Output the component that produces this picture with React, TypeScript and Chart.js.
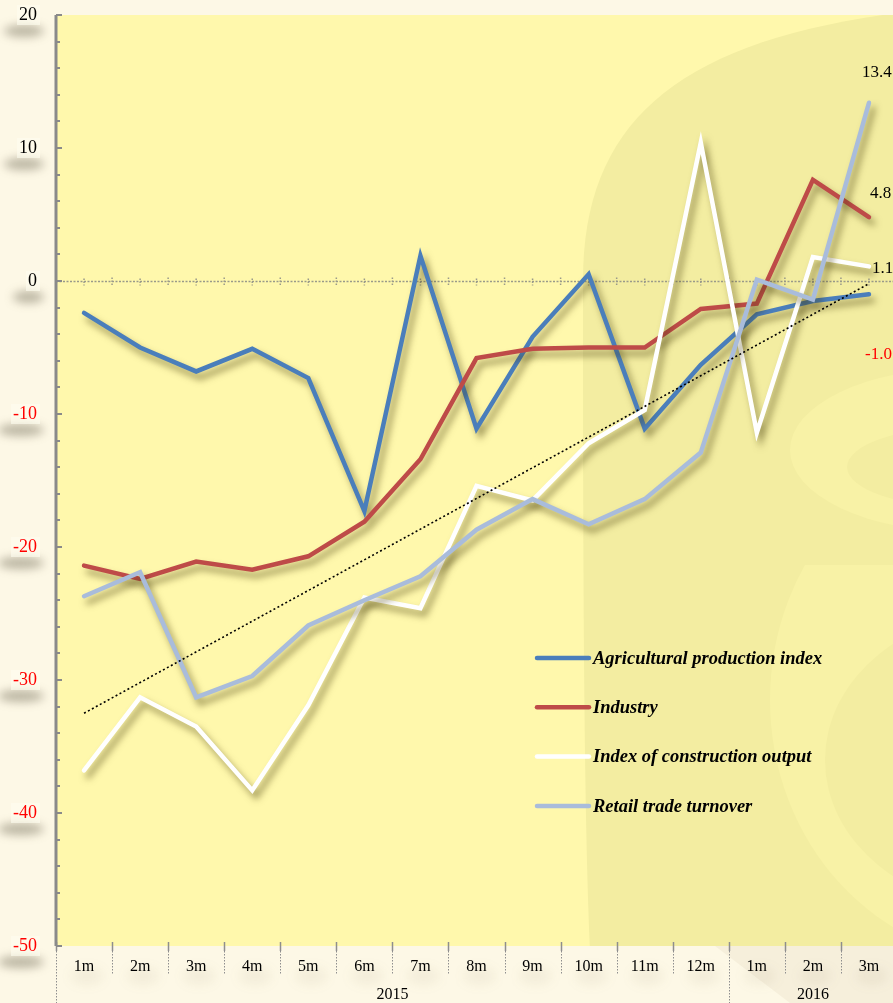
import React, { useEffect, useRef } from 'react';
import { Chart, registerables } from 'chart.js';

Chart.register(...registerables);

const months = ['1m', '2m', '3m', '4m', '5m', '6m', '7m', '8m', '9m', '10m', '11m', '12m', '1m', '2m', '3m'];
const years = ['2015', '2016'];
const yearMonthCounts = [12, 3];

const agricultural = [-2.4, -5.0, -6.8, -5.1, -7.3, -17.3, 1.9, -11.1, -4.2, 0.5, -11.1, -6.3, -2.5, -1.5, -1.0];
const industry = [-21.4, -22.4, -21.1, -21.7, -20.7, -18.1, -13.4, -5.8, -5.1, -5.0, -5.0, -2.1, -1.7, 7.6, 4.8];
const construction = [-36.8, -31.3, -33.5, -38.3, -31.9, -23.8, -24.6, -15.4, -16.5, -12.2, -9.7, 10.4, -11.4, 1.8, 1.1];
const retail = [-23.7, -21.9, -31.3, -29.7, -25.9, -24.0, -22.2, -18.7, -16.4, -18.3, -16.4, -12.9, 0.1, -1.4, 13.4];
const retailTrend = [-32.5, null, null, null, null, null, null, null, null, null, null, null, null, null, -0.2];

const seriesNames = ['Agricultural production index', 'Industry', 'Index of construction output', 'Retail trade turnover'];
const seriesColors = ['#4A7EBB', '#BE4B48', '#FFFFFF', '#A9BCDB'];

const yMin = -50;
const yMax = 20;
const yStep = 10;
const yMinorStep = 2;

const SERIF = "'Liberation Serif', 'Times New Roman', serif";
const PAGE_BG = '#FDF8E6';
const PLOT_BG = '#FFF8AC';
const MARK_BG = '#F3EDA1';
const MARK_LIGHT = '#F8F2A6';

const decorPlugin = {
  id: 'decor',
  beforeDraw(chart: any) {
    const { ctx, chartArea: a, scales } = chart;
    const y = scales.y;
    const x = scales.x;
    ctx.save();
    // plot background
    ctx.fillStyle = PLOT_BG;
    ctx.fillRect(a.left, a.top, a.right - a.left, a.bottom - a.top);
    // watermark
    ctx.save();
    ctx.beginPath();
    ctx.rect(a.left, a.top, a.right - a.left, a.bottom - a.top);
    ctx.clip();
    ctx.fillStyle = MARK_BG;
    ctx.beginPath();
    ctx.moveTo(590, a.bottom + 5);
    ctx.bezierCurveTo(583, 800, 583, 500, 583, 280);
    ctx.bezierCurveTo(583, 120, 680, 40, 905, 12);
    ctx.lineTo(905, a.bottom + 5);
    ctx.closePath();
    ctx.fill();
    // lighter ring (upper)
    ctx.fillStyle = MARK_LIGHT;
    ctx.beginPath();
    ctx.ellipse(962, 450, 172, 82, 0, 0, Math.PI * 2);
    ctx.fill();
    ctx.fillStyle = MARK_BG;
    ctx.beginPath();
    ctx.ellipse(962, 467, 115, 40, 0, 0, Math.PI * 2);
    ctx.fill();
    // lighter lower band
    ctx.save();
    ctx.beginPath();
    ctx.rect(700, 565, 300, 400);
    ctx.clip();
    ctx.fillStyle = MARK_LIGHT;
    ctx.beginPath();
    ctx.ellipse(1010, 700, 240, 260, 0, 0, Math.PI * 2);
    ctx.fill();
    ctx.fillStyle = MARK_BG;
    ctx.beginPath();
    ctx.ellipse(1010, 760, 185, 150, 0, 0, Math.PI * 2);
    ctx.fill();
    ctx.restore();
    ctx.restore();

    // faint beige area below plot at right
    ctx.fillStyle = 'rgba(150,130,90,0.07)';
    ctx.beginPath();
    ctx.moveTo(715, a.bottom);
    ctx.lineTo(900, a.bottom);
    ctx.lineTo(900, chart.height);
    ctx.lineTo(790, chart.height);
    ctx.closePath();
    ctx.fill();

    // glows under y tick labels
    ctx.font = `18px ${SERIF}`;
    for (let v = yMin; v <= yMax; v += yStep) {
      const py = y.getPixelForValue(v);
      const w = ctx.measureText(String(v)).width;
      const right = a.left - 19;
      ctx.save();
      ctx.filter = 'blur(5px)';
      ctx.fillStyle = 'rgba(80,70,50,0.38)';
      ctx.beginPath();
      ctx.ellipse(right - w / 2 - 4, py + 16, w / 2 + 11, 6, 0, 0, Math.PI * 2);
      ctx.fill();
      ctx.restore();
      ctx.fillStyle = 'rgba(255,253,240,0.6)';
      ctx.fillRect(right - w - 2, py - 10, w + 5, 20);
    }
    // faint glows under x labels
    months.forEach((_, i) => {
      const cx = x.getPixelForValue(i);
      ctx.save();
      ctx.filter = 'blur(6px)';
      ctx.fillStyle = 'rgba(120,100,60,0.08)';
      ctx.beginPath();
      ctx.ellipse(cx + 3, a.bottom + 30, 16, 8, 0, 0, Math.PI * 2);
      ctx.fill();
      ctx.restore();
    });
    ctx.restore();
  },
  beforeDatasetsDraw(chart: any) {
    const { ctx, chartArea: a, scales } = chart;
    const x = scales.x;
    const y = scales.y;
    ctx.save();
    const n = months.length;
    const centers = months.map((_, i) => x.getPixelForValue(i));
    const bounds: number[] = [a.left];
    for (let i = 0; i < n - 1; i++) bounds.push((centers[i] + centers[i + 1]) / 2);
    bounds.push(a.right);

    // zero line
    const zy = Math.round(y.getPixelForValue(0)) + 0.5;
    ctx.strokeStyle = '#9A9A8A';
    ctx.lineWidth = 1.3;
    ctx.setLineDash([2, 1.5]);
    ctx.beginPath();
    ctx.moveTo(a.left, zy);
    ctx.lineTo(a.right, zy);
    ctx.stroke();
    ctx.setLineDash([1.5, 1.5]);
    ctx.lineWidth = 1.5;
    bounds.forEach((bx, i) => {
      if (i === 0) return;
      ctx.beginPath();
      ctx.moveTo(bx, zy - 4);
      ctx.lineTo(bx, zy + 5);
      ctx.stroke();
    });
    centers.forEach((cx) => {
      ctx.beginPath();
      ctx.moveTo(cx, zy - 3);
      ctx.lineTo(cx, zy + 4);
      ctx.stroke();
    });

    // separators below plot
    ctx.strokeStyle = '#8E8E8E';
    let yearStart = 0;
    const yearBounds = new Set<number>([0]);
    yearMonthCounts.forEach((c) => { yearStart += c; yearBounds.add(yearStart); });
    bounds.forEach((bx, i) => {
      const xx = Math.round(bx) + 0.5;
      ctx.setLineDash([]);
      ctx.lineWidth = 1.5;
      ctx.beginPath();
      ctx.moveTo(xx, a.bottom - 4);
      ctx.lineTo(xx, a.bottom + 5);
      ctx.stroke();
      ctx.setLineDash([1.5, 1.5]);
      ctx.lineWidth = 1;
      ctx.beginPath();
      ctx.moveTo(xx, a.bottom + 5);
      const isYear = yearBounds.has(i) && i !== n;
      ctx.lineTo(xx, isYear ? chart.height : a.bottom + 29);
      ctx.stroke();
    });
    ctx.setLineDash([]);

    // year labels
    ctx.fillStyle = '#000';
    ctx.font = `16px ${SERIF}`;
    ctx.textAlign = 'center';
    ctx.textBaseline = 'middle';
    let s = 0;
    years.forEach((yr, k) => {
      const e = s + yearMonthCounts[k];
      const cx = (bounds[s] + bounds[e]) / 2;
      ctx.fillText(yr, cx, a.bottom + 49);
      s = e;
    });

    // y axis line + inner ticks
    ctx.strokeStyle = '#8A8A8A';
    ctx.lineWidth = 3;
    ctx.beginPath();
    ctx.moveTo(a.left, a.top);
    ctx.lineTo(a.left, a.bottom);
    ctx.stroke();
    ctx.lineWidth = 2;
    for (let v = yMin; v <= yMax; v += yMinorStep) {
      const py = Math.round(y.getPixelForValue(v));
      const major = v % yStep === 0;
      ctx.beginPath();
      ctx.moveTo(a.left, py);
      ctx.lineTo(a.left + (major ? 6 : 4), py);
      ctx.stroke();
    }
    ctx.restore();
  },
  beforeDatasetDraw(chart: any, args: any) {
    const ctx = chart.ctx;
    ctx.save();
    if (args.index < 4) {
      ctx.shadowColor = 'rgba(70,60,10,0.55)';
      ctx.shadowBlur = 7;
      ctx.shadowOffsetX = 4;
      ctx.shadowOffsetY = 6;
    }
  },
  afterDatasetDraw(chart: any) {
    chart.ctx.restore();
  },
  afterDatasetsDraw(chart: any) {
    const { ctx } = chart;
    ctx.save();
    const offsets = [
      { dx: -4, dy: 60 },
      { dx: 1, dy: -24 },
      { dx: 3, dy: 2 },
      { dx: -7, dy: -30 },
    ];
    ctx.font = `17px ${SERIF}`;
    ctx.textAlign = 'left';
    ctx.textBaseline = 'middle';
    for (let i = 0; i < 4; i++) {
      const meta = chart.getDatasetMeta(i);
      const last = meta.data[meta.data.length - 1];
      const data = chart.data.datasets[i].data;
      const v = data[data.length - 1] as number;
      ctx.fillStyle = v < 0 ? '#FF0000' : '#000000';
      ctx.fillText(v.toFixed(1), last.x + offsets[i].dx, last.y + offsets[i].dy);
    }

    // legend
    const lx0 = 537;
    const lx1 = 589;
    const ly0 = 658;
    const lstep = 49.3;
    seriesNames.forEach((name, i) => {
      const yy = ly0 + i * lstep;
      ctx.strokeStyle = seriesColors[i];
      ctx.lineWidth = 4.5;
      ctx.lineCap = 'round';
      ctx.beginPath();
      ctx.moveTo(lx0, yy);
      ctx.lineTo(lx1, yy);
      ctx.stroke();
      ctx.fillStyle = '#000';
      ctx.font = `italic bold 18.5px ${SERIF}`;
      ctx.textAlign = 'left';
      ctx.textBaseline = 'middle';
      ctx.fillText(name, lx1 + 4, yy + 1);
    });
    ctx.restore();
  },
};

export default function App() {
  const ref = useRef<HTMLCanvasElement | null>(null);

  useEffect(() => {
    if (!ref.current) return;
    const seriesData = [agricultural, industry, construction, retail];
    const datasets: any[] = seriesData.map((d, i) => ({
      label: seriesNames[i],
      data: d,
      borderColor: seriesColors[i],
      backgroundColor: seriesColors[i],
      borderWidth: 4.5,
      pointRadius: 0,
      pointHoverRadius: 0,
      tension: 0,
      fill: false,
      borderCapStyle: 'round',
      borderJoinStyle: 'miter',
      order: 5 - i,
    }));
    datasets.push({
      label: 'Trend',
      data: retailTrend,
      borderColor: '#000000',
      borderWidth: 1.6,
      borderDash: [2, 2.5],
      pointRadius: 0,
      spanGaps: true,
      fill: false,
      order: 0,
    });

    const chart = new Chart(ref.current, {
      type: 'line',
      data: { labels: months, datasets },
      plugins: [decorPlugin],
      options: {
        responsive: false,
        animation: false,
        devicePixelRatio: 1,
        layout: { padding: { top: 15, right: 13, bottom: 0, left: 0 } },
        plugins: {
          legend: { display: false },
          tooltip: { enabled: false },
          title: { display: false },
        },
        events: [],
        scales: {
          x: {
            type: 'category',
            offset: true,
            grid: { display: false, drawTicks: false },
            border: { display: false },
            ticks: {
              color: '#000',
              font: { family: SERIF, size: 16 },
              padding: 11,
              maxRotation: 0,
              autoSkip: false,
            },
            afterFit(scale: any) { scale.height = 57; scale.paddingLeft = 0; scale.paddingRight = 0; },
          },
          y: {
            min: yMin,
            max: yMax,
            grid: { display: false, drawTicks: false },
            border: { display: false },
            ticks: {
              stepSize: yStep,
              padding: 19,
              font: { family: SERIF, size: 18 },
              color: (c: any) => (c.tick && c.tick.value < 0 ? '#FF0000' : '#000000'),
            },
            afterFit(scale: any) { scale.width = 56; scale.paddingTop = 0; scale.paddingBottom = 0; },
          },
        },
      },
    });
    return () => chart.destroy();
  }, []);

  return (
    <div style={{ position: 'absolute', left: 0, top: 0, width: 893, height: 1003, overflow: 'hidden', background: PAGE_BG }}>
      <canvas ref={ref} width={910} height={1003} style={{ width: 910, height: 1003, display: 'block' }} />
    </div>
  );
}
